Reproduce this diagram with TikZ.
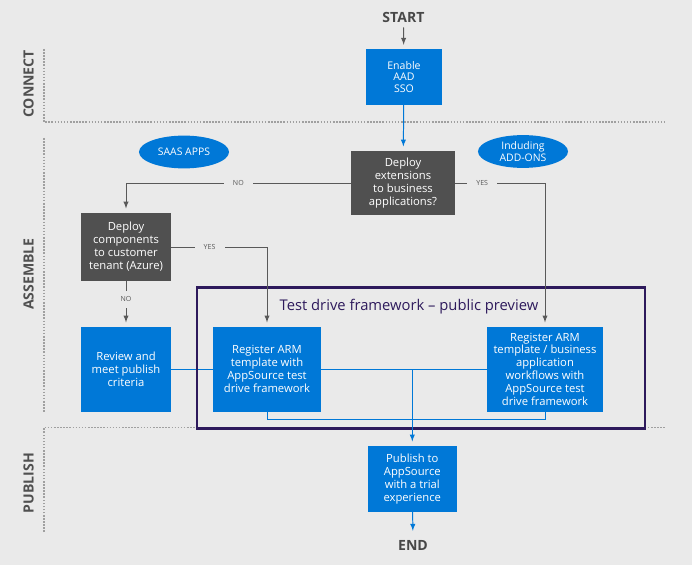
\documentclass[tikz,border=0pt]{standalone}
\usepackage{fontspec}
\setmainfont{Open Sans}
\usetikzlibrary{shapes.geometric,backgrounds}
\definecolor{msBlue}{RGB}{0,120,215}
\definecolor{msGray}{RGB}{80,80,80}
\definecolor{msLine}{RGB}{89,89,89}
\definecolor{msBack}{RGB}{234,234,234}
\definecolor{msDots}{RGB}{160,160,160}
\definecolor{msPurple}{RGB}{46,26,92}

\begin{document}
\begin{tikzpicture}[x=0.025cm, y=-0.025cm]
  \tikzstyle{box} = [rectangle, fill=msBlue, text=white, align=center, inner sep=0pt, minimum height=2.12cm, font=\fontsize{8}{9.2}\selectfont]
  \tikzstyle{dbox} = [box, fill=msGray]
  \tikzstyle{oval} = [ellipse, fill=msBlue, text=white, align=center, inner sep=0pt, minimum width=2.25cm, minimum height=0.82cm, font=\fontsize{7.4}{8.4}\selectfont]
  \tikzstyle{arrow} = [->, >=latex, msLine, line width=0.7pt, shorten >=3pt]
  \tikzstyle{barrow} = [arrow, msBlue]
  \tikzstyle{bline} = [msBlue, line width=0.7pt]
  \tikzstyle{choice} = [fill=msBack, text=msLine, inner xsep=6.5pt, inner ysep=4pt, font=\fontsize{5}{6}\selectfont]
  \tikzstyle{lane} = [msDots, line width=1.1pt, dash pattern=on 1.1pt off 1.1pt]
  \tikzstyle{lanename} = [rotate=90, text=msGray, font=\fontsize{10}{12}\selectfont\bfseries]
  \tikzstyle{term} = [text=msGray!90!black, font=\fontsize{10}{12}\selectfont\bfseries]

  % swim lanes
  \draw[lane] (44,49) -- (44,122) -- (665,122);
  \draw[lane] (44,138) -- (44,412);
  \draw[lane] (44,532) -- (44,427.5) -- (665,427.5);
  \node[lanename] (connect) at (28.7,84) {CONNECT};
  \node[lanename] (assemble) at (28.5,274) {ASSEMBLE};
  \node[lanename] (publish) at (28.5,483) {PUBLISH};

  \node[term] (start) at (403.4,17.3) {START};
  \node[box, minimum width=1.9cm, minimum height=1.385cm, font=\fontsize{7.5}{8.3}\selectfont] (sso) at (404,77) {Enable\\AAD\\SSO};
  \node[dbox, minimum width=2.6cm, minimum height=1.6cm] (ext) at (403,183) {Deploy\\extensions\\to business\\applications?};
  \node[oval] (saas) at (184,152) {SAAS APPS};
  \node[oval] (addons) at (523,151.5) {Induding\\ADD-ONS};
  \node[dbox, minimum width=2.25cm, minimum height=1.7cm] (comp) at (126,247) {Deploy\\components\\to customer\\tenant (Azure)};
  \node[box, minimum width=2.25cm] (review) at (126,369.3) {Review and\\meet publish\\criteria};
  \node[box, minimum width=2.7cm] (regl) at (267,369.3) {Register ARM\\template with\\AppSource test\\drive framework};
  \node[box, minimum width=2.9cm] (regr) at (545,369.3) {Register ARM\\template / business\\application\\workflows with\\AppSource test\\drive framework};
  \node[box, minimum width=2.22cm, minimum height=1.64cm] (pub) at (412.3,478.8) {Publish to\\AppSource\\with a trial\\experience};
  \node[term] (stop) at (413,545) {END};

  % test drive frame
  \draw[msPurple, line width=1.9pt] (197,287.7) rectangle (645,428.7);
  \node[text=msPurple, font=\fontsize{10.5}{12}\selectfont] (tdf) at (409,306.7) {Test drive framework -- public preview};

  \draw[arrow] (start) -- (sso);
  \draw[barrow] (sso) -- (ext);
  \draw[arrow] (ext.west) -| node[choice, pos=0.25] {NO} (comp.north);
  \draw[arrow] (ext.east) -| node[choice, pos=0.15] {YES} (regr.north);
  \draw[arrow] (comp.east) -| node[choice, pos=0.2] {YES} (regl.north);
  \draw[arrow] (comp) -- node[choice, pos=0.4] {NO} (review);

  \begin{scope}[on background layer]
    \fill[msBack] (0,0) rectangle (692,565);
    \draw[bline] (review.east) -- (regr.east);
    \draw[bline] (regl.south) -- ++(0,7) -| (regr.south);
  \end{scope}
  \draw[barrow] (review.east -| pub.north) -- (pub.north);
  \draw[barrow] (pub) -- (stop);
\end{tikzpicture}
\end{document}
